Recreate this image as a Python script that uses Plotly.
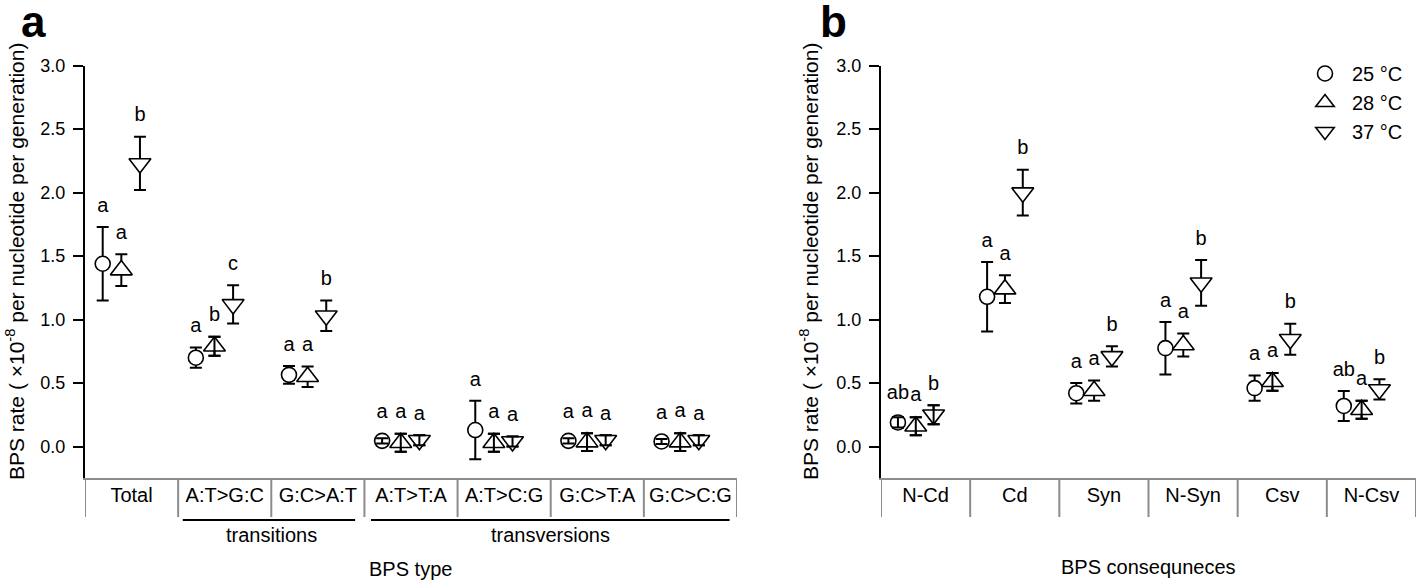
import plotly.graph_objects as go

W, H = 1417, 581

# ---------------- data ----------------
temps = ["25 °C", "28 °C", "37 °C"]

cats_a = ["Total", "A:T>G:C", "G:C>A:T", "A:T>T:A", "A:T>C:G", "G:C>T:A", "G:C>C:G"]
a_25 = [1.44, 0.70, 0.565, 0.045, 0.13, 0.045, 0.04]
a_25_err = [0.29, 0.08, 0.07, 0.02, 0.23, 0.02, 0.02]
a_28 = [1.39, 0.79, 0.55, 0.03, 0.03, 0.035, 0.035]
a_28_err = [0.125, 0.075, 0.08, 0.07, 0.07, 0.07, 0.07]
a_37 = [2.23, 1.12, 1.03, 0.05, 0.04, 0.05, 0.05]
a_37_err = [0.21, 0.15, 0.12, 0.04, 0.04, 0.04, 0.04]
a_lab_25 = ["a", "a", "a", "a", "a", "a", "a"]
a_lab_28 = ["a", "b", "a", "a", "a", "a", "a"]
a_lab_37 = ["b", "c", "b", "a", "a", "a", "a"]

cats_b = ["N-Cd", "Cd", "Syn", "N-Syn", "Csv", "N-Csv"]
b_25 = [0.19, 1.18, 0.42, 0.775, 0.46, 0.32]
b_25_err = [0.04, 0.273, 0.08, 0.207, 0.10, 0.118]
b_28 = [0.16, 1.24, 0.44, 0.80, 0.51, 0.29]
b_28_err = [0.07, 0.11, 0.08, 0.09, 0.07, 0.07]
b_37 = [0.25, 2.00, 0.71, 1.29, 0.845, 0.45]
b_37_err = [0.075, 0.18, 0.08, 0.18, 0.122, 0.08]
b_lab_25 = ["ab", "a", "a", "a", "a", "ab"]
b_lab_28 = ["a", "a", "a", "a", "a", "a"]
b_lab_37 = ["b", "b", "b", "b", "b", "b"]

group_labels = ["transitions", "transversions"]

# ---------------- style ----------------
FONT = "Liberation Sans, Arial, Helvetica, sans-serif"
GRAY = "#8c8c8c"
SYMBOLS = ["circle", "triangle-up", "triangle-down"]
SIZES = [15, 19, 19]
OFFS = [-0.31, -0.11, 0.09]
MTOP = [0.06, 0.075, 0.04]   # marker top above point, in data units
INSIDE = [0.059, 0.075, 0.075]  # error smaller than this sits inside the symbol
LAB_GAP = 0.16


def px(x):
    return x / W


def py(y):
    return 1 - y / H


XA = [px(85), px(737)]
XB = [px(881), px(1416)]
YD = [py(478.3), py(65.7)]
BOX_BOTTOM = py(517)

fig = go.Figure()
ERR_STYLE = dict(type="data", visible=True, color="black", thickness=2, width=6)


def add_panel(cats, vals, errs, labs, xaxis, yaxis, showlegend):
    n = len(cats)
    for k in range(3):
        xs = [i + OFFS[k] for i in range(n)]
        fig.add_trace(go.Scatter(
            x=xs, y=vals[k], mode="markers", name=temps[k],
            xaxis=xaxis, yaxis=yaxis, showlegend=showlegend,
            marker=dict(symbol=SYMBOLS[k], size=SIZES[k], color="white",
                        line=dict(color="black", width=1.6)),
            error_y=dict(array=errs[k], **ERR_STYLE),
        ))
    # error bars that fall inside a symbol are drawn on top of it
    for k in range(3):
        sel = [i for i in range(n) if errs[k][i] <= INSIDE[k]]
        if not sel:
            continue
        fig.add_trace(go.Scatter(
            x=[i + OFFS[k] for i in sel], y=[vals[k][i] for i in sel],
            mode="markers", showlegend=False, hoverinfo="skip",
            xaxis=xaxis, yaxis=yaxis,
            marker=dict(size=1, opacity=0),
            error_y=dict(array=[errs[k][i] for i in sel], **ERR_STYLE),
        ))
    for k in range(3):
        xs = [i + OFFS[k] for i in range(n)]
        ys = [max(v + e, v + MTOP[k]) + LAB_GAP for v, e in zip(vals[k], errs[k])]
        fig.add_trace(go.Scatter(
            x=xs, y=ys, mode="text", text=labs[k], showlegend=False,
            xaxis=xaxis, yaxis=yaxis, hoverinfo="skip",
            textfont=dict(family=FONT, size=20, color="black"),
            textposition="middle center",
        ))


add_panel(cats_a, [a_25, a_28, a_37], [a_25_err, a_28_err, a_37_err],
          [a_lab_25, a_lab_28, a_lab_37], "x", "y", False)
add_panel(cats_b, [b_25, b_28, b_37], [b_25_err, b_28_err, b_37_err],
          [b_lab_25, b_lab_28, b_lab_37], "x2", "y2", True)

yax = dict(range=[-0.25, 3.0], tickvals=[0, 0.5, 1.0, 1.5, 2.0, 2.5, 3.0],
           tickformat=".1f", showline=True, linecolor="black", linewidth=2,
           ticks="outside", ticklen=10, tickwidth=2, tickcolor="black",
           showgrid=False, zeroline=False, ticklabelstandoff=4,
           automargin=False,
           tickfont=dict(family=FONT, size=18, color="black"))


def xax(cats, dom, anchor):
    return dict(domain=dom, anchor=anchor, range=[-0.5, len(cats) - 0.5],
                tickvals=list(range(len(cats))), ticktext=cats, ticks="",
                showline=True, linecolor=GRAY, linewidth=2, showgrid=False,
                zeroline=False, ticklabelstandoff=-2, automargin=False,
                tickfont=dict(family=FONT, size=20, color="black"))


fig.update_layout(
    width=W, height=H,
    margin=dict(l=0, r=0, t=0, b=0, autoexpand=False),
    paper_bgcolor="white", plot_bgcolor="white",
    font=dict(family=FONT, color="black"),
    xaxis=xax(cats_a, XA, "y"),
    xaxis2=xax(cats_b, XB, "y2"),
    yaxis=dict(domain=YD, anchor="x", **yax),
    yaxis2=dict(domain=YD, anchor="x2", **yax),
    showlegend=True,
    legend=dict(x=px(1298), y=py(54), xanchor="left", yanchor="top",
                bgcolor="rgba(0,0,0,0)", borderwidth=0, tracegroupgap=0,
                font=dict(family=FONT, size=20, color="black"),
                itemwidth=44),
)

shapes = []
for xref, n in (("x", len(cats_a)), ("x2", len(cats_b))):
    for i in range(n + 1):
        shapes.append(dict(type="line", xref=xref, yref="paper",
                           x0=i - 0.5, x1=i - 0.5, y0=YD[0], y1=BOX_BOTTOM,
                           line=dict(color=GRAY, width=2)))
# group underlines
for x0, x1 in ((0.55, 2.4), (2.57, 6.42)):
    shapes.append(dict(type="line", xref="x", yref="paper", x0=x0, x1=x1,
                       y0=py(520), y1=py(520), line=dict(color="black", width=2)))
fig.update_layout(shapes=shapes)

ann = []
for txt, xc in zip(group_labels, (1.5, 4.5)):
    ann.append(dict(text=txt, xref="x", yref="paper", x=xc, y=py(535),
                    showarrow=False, xanchor="center", yanchor="middle",
                    font=dict(family=FONT, size=20, color="black")))
ann.append(dict(text="BPS type", xref="paper", yref="paper", x=(XA[0] + XA[1]) / 2,
                y=py(569), showarrow=False, xanchor="center", yanchor="middle",
                font=dict(family=FONT, size=20, color="black")))
ann.append(dict(text="BPS consequneces", xref="paper", yref="paper",
                x=(XB[0] + XB[1]) / 2, y=py(567), showarrow=False,
                xanchor="center", yanchor="middle",
                font=dict(family=FONT, size=20, color="black")))
ytitle = "BPS rate ( ×10<sup>-8</sup> per nucleotide per generation)"
for xc in (15, 809):
    ann.append(dict(text=ytitle, xref="paper", yref="paper", x=px(xc), y=py(262),
                    textangle=-90, showarrow=False, xanchor="center",
                    yanchor="middle", font=dict(family=FONT, size=21, color="black")))
for letter, xl in (("a", 19), ("b", 818)):
    ann.append(dict(text="<b>%s</b>" % letter, xref="paper", yref="paper",
                    x=px(xl), y=py(21), showarrow=False, xanchor="left",
                    yanchor="middle",
                    font=dict(family=FONT, size=44, color="black")))
fig.update_layout(annotations=ann)

# remove the browser's default 8px page margin so the figure sits at (0, 0)
fig.write_html("out.html", config={"displayModeBar": False},
               post_script="document.body.style.margin='0px';")
